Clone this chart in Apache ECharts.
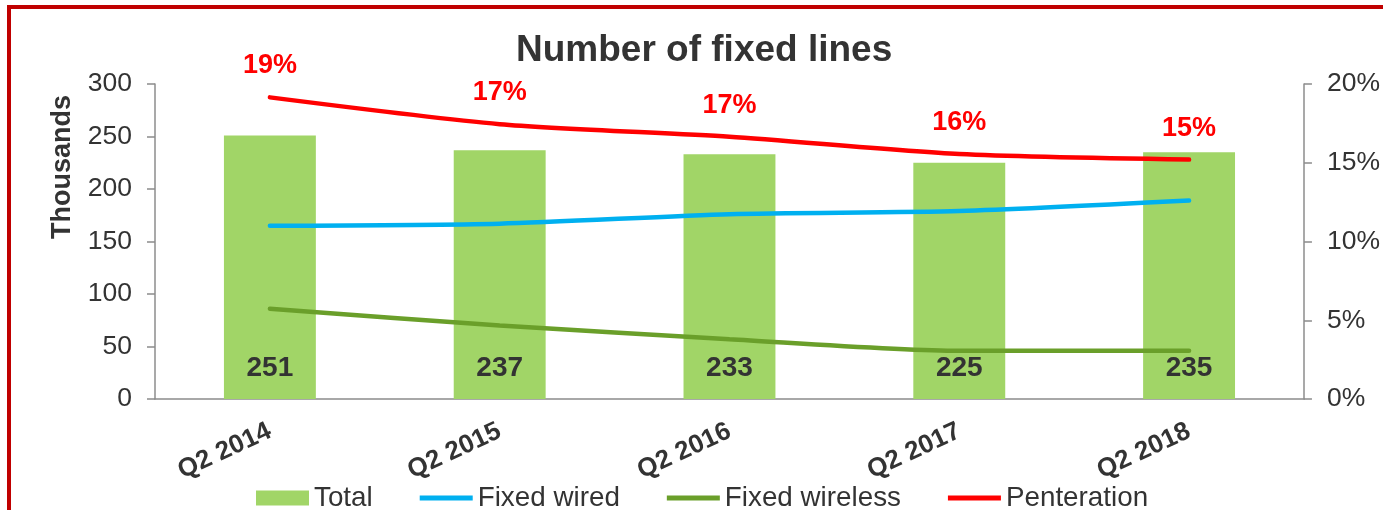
<!DOCTYPE html>
<html>
<head>
<meta charset="utf-8">
<script src="https://cdn.jsdelivr.net/npm/echarts@6/dist/echarts.min.js"></script>
<style>
  html, body { margin: 0; padding: 0; background: #fff; overflow: hidden; }
  #chart { position: absolute; left: 0; top: 0; width: 1383px; height: 510px; }
  .frame {
    position: absolute; left: 7px; top: 5px; width: 1500px; height: 600px;
    border: 4px solid #c00000; box-sizing: border-box; pointer-events: none;
  }
</style>
</head>
<body>
<div id="chart"></div>
<div class="frame"></div>
<script>
// values
const quarters = ['Q2 2014', 'Q2 2015', 'Q2 2016', 'Q2 2017', 'Q2 2018']
const total = [251, 237, 233, 225, 235]
const fixedWired = [165, 167, 176, 179, 189]
const fixedWireless = [86, 70, 57, 46, 46]
const penetration = [19.15, 17.45, 16.65, 15.55, 15.2] // percent

const textColor = '#333'
const axisGrey = '#8c8c8c'
const font = 'Liberation Sans, Arial, sans-serif'
// thick plain line for the legend icons of the line series
const lineIcon = 'path://M0,0H53V5H0Z'

const chart = echarts.init(document.getElementById('chart'))

const lineSeries = (name, data, color, yAxisIndex) => ({
  name,
  type: 'line',
  yAxisIndex,
  data,
  smooth: 0.25,
  symbol: 'circle',
  symbolSize: 0.1,
  showSymbol: true,
  lineStyle: { color, width: 4.5, cap: 'round' },
  itemStyle: { color },
  z: 3,
})

chart.setOption({
  animation: false,
  textStyle: { fontFamily: font },
  title: {
    text: 'Number of fixed lines',
    left: 511,
    top: 27,
    textStyle: { fontSize: 37, fontWeight: 'bold', color: textColor, fontFamily: font },
  },
  graphic: [
    {
      type: 'text',
      x: 63,
      y: 167,
      rotation: Math.PI / 2,
      style: {
        text: 'Thousands',
        fontSize: 27,
        fontWeight: 'bold',
        fill: textColor,
        fontFamily: font,
        align: 'center',
        verticalAlign: 'middle',
      },
    },
  ],
  legend: {
    left: 251,
    top: 479,
    itemWidth: 53,
    itemHeight: 15,
    itemGap: 47,
    textStyle: { fontSize: 27.8, color: textColor, fontFamily: font },
    data: [
      { name: 'Total', icon: 'rect' },
      { name: 'Fixed wired', icon: lineIcon },
      { name: 'Fixed wireless', icon: lineIcon },
      { name: 'Penteration', icon: lineIcon },
    ],
  },
  grid: { left: 155, right: 79, top: 84, bottom: 111 },
  xAxis: {
    type: 'category',
    data: quarters,
    axisLine: { lineStyle: { color: axisGrey, width: 1.5 } },
    axisTick: { length: 8, lineStyle: { color: axisGrey, width: 1.5 } },
    axisLabel: {
      rotate: 25,
      margin: 31,
      fontSize: 26,
      fontWeight: 'bold',
      color: textColor,
      fontFamily: font,
    },
  },
  yAxis: [
    {
      type: 'value',
      min: 0,
      max: 300,
      interval: 50,
      axisLine: { show: true, lineStyle: { color: axisGrey, width: 1.5 } },
      axisTick: { show: true, length: 8, lineStyle: { color: axisGrey, width: 1.5 } },
      axisLabel: { fontSize: 26.5, color: textColor, margin: 23, fontFamily: font },
      splitLine: { show: false },
    },
    {
      type: 'value',
      min: 0,
      max: 20,
      interval: 5,
      position: 'right',
      axisLine: { show: true, lineStyle: { color: axisGrey, width: 1.5 } },
      axisTick: { show: true, length: 8, lineStyle: { color: axisGrey, width: 1.5 } },
      axisLabel: { fontSize: 26.5, color: textColor, margin: 23, formatter: '{value}%', fontFamily: font },
      splitLine: { show: false },
    },
  ],
  series: [
    {
      name: 'Total',
      type: 'bar',
      data: total,
      barWidth: '40%',
      itemStyle: { color: '#a1d567' },
      label: {
        show: true,
        position: 'insideBottom',
        distance: 17,
        fontSize: 28,
        fontWeight: 'bold',
        color: textColor,
        fontFamily: font,
      },
      z: 2,
    },
    lineSeries('Fixed wired', fixedWired, '#00b0f0', 0),
    lineSeries('Fixed wireless', fixedWireless, '#6a9f2a', 0),
    {
      ...lineSeries('Penteration', penetration, '#ff0000', 1),
      label: {
        show: true,
        position: 'top',
        distance: 18,
        fontSize: 27,
        fontWeight: 'bold',
        color: '#ff0000',
        fontFamily: font,
        formatter: p => Math.round(p.value) + '%',
      },
    },
  ],
})
</script>
</body>
</html>
